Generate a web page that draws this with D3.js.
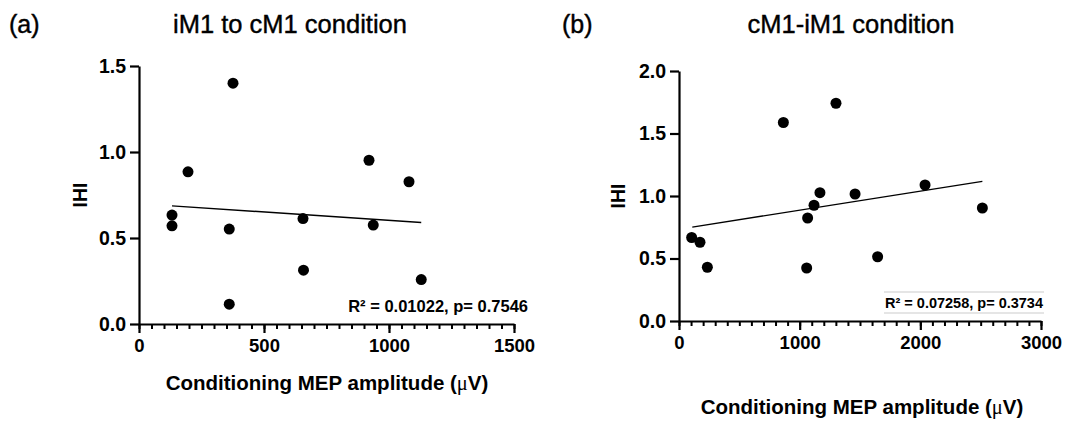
<!DOCTYPE html>
<html>
<head>
<meta charset="utf-8"/>
<script src="https://cdn.jsdelivr.net/npm/d3@7"></script>
<style>
  body { margin: 0; background: #fff; }
  text { font-family: "Liberation Sans", Arial, sans-serif; fill: #000; }
</style>
</head>
<body>
<script>
// panel (a): iM1 to cM1
var mepA = [132, 132, 196, 361, 361, 376, 656, 658, 920, 937, 1080, 1129];
var ihiA = [0.633, 0.571, 0.885, 0.552, 0.115, 1.40, 0.613, 0.313, 0.952, 0.575, 0.827, 0.258];
var fitA = [[132, 0.687], [1129, 0.590]];
var xTicksA = [0, 500, 1000, 1500];
var yTicksA = [0, 0.5, 1.0, 1.5];
var statA = "R\u00b2 = 0.01022, p= 0.7546";

// panel (b): cM1-iM1
var mepB = [105, 174, 235, 865, 1058, 1066, 1119, 1168, 1301, 1459, 1646, 2039, 2514];
var ihiB = [0.668, 0.630, 0.430, 1.588, 0.424, 0.824, 0.926, 1.027, 1.742, 1.016, 0.514, 1.088, 0.904];
var fitB = [[110, 0.751], [2514, 1.117]];
var xTicksB = [0, 1000, 2000, 3000];
var yTicksB = [0, 0.5, 1.0, 1.5, 2.0];
var statB = "R\u00b2 = 0.07258, p= 0.3734";

var w = 1079, h = 422;
var svg = d3.select("body").append("svg")
  .attr("width", w)
  .attr("height", h);

function panel(o) {
  var x = d3.scaleLinear().domain(o.xdom).range(o.xr);
  var y = d3.scaleLinear().domain(o.ydom).range(o.yr);
  var g = svg.append("g");

  // minor ticks on x
  g.append("g")
    .attr("transform", "translate(0," + o.yr[0] + ")")
    .call(d3.axisBottom(x).tickValues(d3.range(o.xdom[0], o.xdom[1] + 1, o.minor)).tickSize(5).tickFormat(""))
    .call(function(a) {
      a.select(".domain").remove();
      a.selectAll("line").attr("stroke-width", 2);
    });

  var xa = g.append("g")
    .attr("transform", "translate(0," + o.yr[0] + ")")
    .call(d3.axisBottom(x).tickValues(o.xticks).tickSize(9).tickPadding(6).tickSizeOuter(0).tickFormat(d3.format("d")));
  var ya = g.append("g")
    .attr("transform", "translate(" + o.xr[0] + ",0)")
    .call(d3.axisLeft(y).tickValues(o.yticks).tickSize(9).tickPadding(4).tickSizeOuter(0).tickFormat(d3.format(".1f")));
  [xa, ya].forEach(function(a, k) {
    a.select(".domain").attr("stroke-width", 2.2);
    a.selectAll(".tick line").attr("stroke-width", 2.2);
    a.selectAll(".tick text")
      .style("font-family", "'Liberation Sans', Arial, sans-serif")
      .style("font-size", k ? "19.5px" : "18.5px")
      .style("font-weight", "bold");
  });

  g.append("line")
    .attr("x1", x(o.fit[0][0])).attr("y1", y(o.fit[0][1]))
    .attr("x2", x(o.fit[1][0])).attr("y2", y(o.fit[1][1]))
    .attr("stroke", "#000").attr("stroke-width", 1.4);

  g.selectAll("circle.pt").data(o.xs).enter().append("circle")
    .attr("class", "pt")
    .attr("cx", function(d) { return x(d); })
    .attr("cy", function(d, i) { return y(o.ys[i]); })
    .attr("r", 5.5)
    .attr("fill", "#000");

  var st = g.append("text")
    .attr("x", o.statX).attr("y", o.statY)
    .attr("text-anchor", "end")
    .style("font-size", o.statSize + "px").style("font-weight", "bold")
    .text(o.stat);
  if (o.statBox) {
    var bw = st.node().getComputedTextLength();
    [o.statY - 16, o.statY + 5].forEach(function(yy) {
      g.append("line")
        .attr("x1", o.statX - bw - 1).attr("x2", o.statX + 1)
        .attr("y1", yy).attr("y2", yy)
        .attr("stroke", "#ddd").attr("stroke-width", 1.5);
    });
  }

  g.append("text")
    .attr("transform", "translate(" + o.ylabX + "," + o.ylabY + ") rotate(-90)")
    .attr("text-anchor", "middle")
    .style("font-size", "19.5px").style("font-weight", "bold")
    .text("IHI");

  var xl = g.append("text")
    .attr("x", o.xlabX).attr("y", o.xlabY)
    .attr("text-anchor", "middle")
    .style("font-size", "20.5px").style("font-weight", "bold");
  xl.append("tspan").text("Conditioning MEP amplitude (");
  xl.append("tspan").style("font-family", "'Liberation Serif', serif").style("font-weight", "normal").text("\u03bc");
  xl.append("tspan").text("V)");

  g.append("text")
    .attr("x", o.tagX).attr("y", 33)
    .style("font-size", "25px")
    .attr("stroke", "#000").attr("stroke-width", 0.4)
    .text(o.tag);
  g.append("text")
    .attr("x", o.titleX).attr("y", 33)
    .attr("text-anchor", "middle")
    .style("font-size", "25.5px")
    .attr("stroke", "#000").attr("stroke-width", 0.4)
    .text(o.title);
}

panel({
  xdom: [0, 1500], xr: [139, 514], ydom: [0, 1.5], yr: [324, 66],
  minor: 50, xticks: xTicksA, yticks: yTicksA,
  xs: mepA, ys: ihiA, fit: fitA,
  stat: statA, statX: 528, statY: 312, statSize: 16.5, statBox: false,
  ylabX: 87, ylabY: 195, xlabX: 327, xlabY: 390,
  tag: "(a)", tagX: 9, title: "iM1 to cM1 condition", titleX: 290
});

panel({
  xdom: [0, 3000], xr: [679, 1041], ydom: [0, 2], yr: [321, 71],
  minor: 100, xticks: xTicksB, yticks: yTicksB,
  xs: mepB, ys: ihiB, fit: fitB,
  stat: statB, statX: 1043, statY: 308, statSize: 14.5, statBox: true,
  ylabX: 625, ylabY: 196, xlabX: 862, xlabY: 414,
  tag: "(b)", tagX: 562, title: "cM1-iM1 condition", titleX: 851
});
</script>
</body>
</html>
